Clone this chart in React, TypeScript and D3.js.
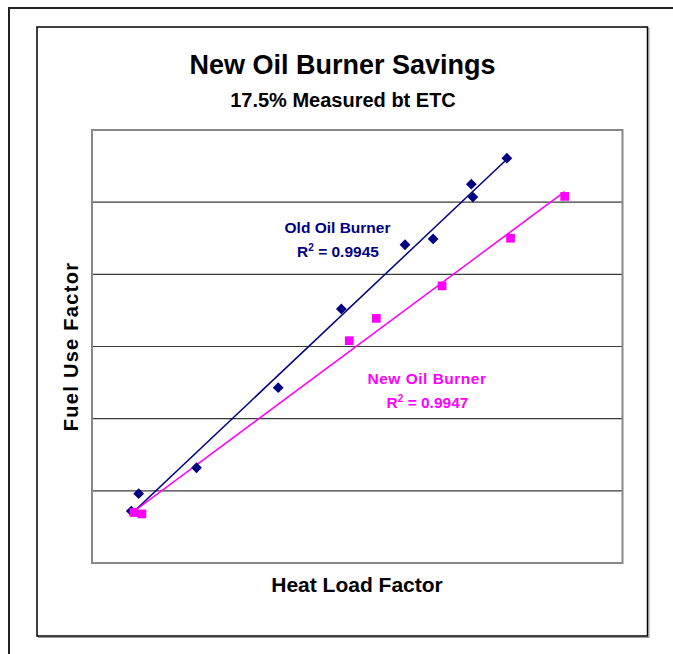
import React from "react";
import * as d3 from "d3";

// Data (arbitrary units; the chart shows no tick labels)
const oldX = [0.74, 0.88, 1.97, 3.51, 4.70, 5.90, 6.43, 7.15, 7.18, 7.82];
const oldY = [0.72, 0.96, 1.32, 2.43, 3.52, 4.41, 4.49, 5.25, 5.07, 5.61];
const newX = [0.79, 0.94, 4.85, 5.36, 6.60, 7.89, 8.91];
const newY = [0.70, 0.68, 3.08, 3.39, 3.84, 4.50, 5.08];
const yTicks = [1, 2, 3, 4, 5];

const title = "New Oil Burner Savings";
const subtitle = "17.5% Measured bt ETC";
const xTitle = "Heat Load Factor";
const yTitle = "Fuel Use Factor";
const oldLabel = "Old Oil Burner";
const newLabel = "New Oil Burner";
const oldR2 = "0.9945";
const newR2 = "0.9947";

const W = 673;
const H = 654;
const PL = 92, PR = 622.5, PT = 130, PB = 563;

const NAVY = "#000080";
const PINK = "#FF00FF";

function fit(xs: number[], ys: number[]) {
  const mx = d3.mean(xs)!;
  const my = d3.mean(ys)!;
  let sxy = 0, sxx = 0;
  xs.forEach((x, i) => {
    sxy += (x - mx) * (ys[i] - my);
    sxx += (x - mx) * (x - mx);
  });
  const b = sxy / sxx;
  const a = my - b * mx;
  const x0 = d3.min(xs)!;
  const x1 = d3.max(xs)!;
  return [
    [x0, a + b * x0],
    [x1, a + b * x1],
  ] as [number, number][];
}

export default function App() {
  const x = d3.scaleLinear().domain([0, 10]).range([PL, PR]);
  const y = d3.scaleLinear().domain([0, 6]).range([PB, PT]);
  const line = d3
    .line<[number, number]>()
    .x((d) => x(d[0]))
    .y((d) => y(d[1]));
  const diamond = d3.symbol().type(d3.symbolSquare).size(58)();
  const square = d3.symbol().type(d3.symbolSquare).size(76)();
  const oldFit = fit(oldX, oldY);
  const newFit = fit(newX, newY);
  const font = "Liberation Sans, Arial, sans-serif";

  return (
    <svg
      width={W}
      height={H}
      style={{ position: "absolute", left: 0, top: 0, background: "#fff" }}
      fontFamily={font}
    >
      {/* outer frame */}
      <rect x={9} y={8} width={720} height={720} fill="none" stroke="#222" strokeWidth={2} />
      {/* chart area frame */}
      <rect x={37.5} y={27.5} width={610.5} height={609} fill="#fff" stroke="#999" strokeWidth={1} transform="translate(1,1)" />
      <rect x={37} y={27} width={610.5} height={609} fill="#fff" stroke="#000" strokeWidth={1.5} />

      {/* titles */}
      <text x={342.5} y={74} textAnchor="middle" fontSize={27} fontWeight="bold" fill="#000">
        {title}
      </text>
      <text x={343} y={107} textAnchor="middle" fontSize={20} fontWeight="bold" fill="#000">
        {subtitle}
      </text>

      {/* gridlines */}
      {yTicks.map((t) => (
        <line key={t} x1={PL} x2={PR} y1={y(t)} y2={y(t)} stroke="#3a3a3a" strokeWidth={1.2} />
      ))}
      {/* plot area border */}
      <rect x={PL} y={PT} width={PR - PL} height={PB - PT} fill="none" stroke="#888" strokeWidth={2} />

      {/* trendlines */}
      <path d={line(oldFit)!} stroke={NAVY} strokeWidth={1.5} fill="none" />
      <path d={line(newFit)!} stroke={PINK} strokeWidth={1.5} fill="none" />

      {/* markers */}
      {oldX.map((v, i) => (
        <path key={"o" + i} d={diamond} transform={`translate(${x(v)},${y(oldY[i])}) rotate(45)`} fill={NAVY} />
      ))}
      {newX.map((v, i) => (
        <path key={"n" + i} d={square} transform={`translate(${x(v)},${y(newY[i])})`} fill={PINK} />
      ))}

      {/* series labels */}
      <text x={337.5} y={233} textAnchor="middle" fontSize={15.5} fontWeight="bold" fill={NAVY}>
        {oldLabel}
      </text>
      <text x={338} y={257} textAnchor="middle" fontSize={15.5} fontWeight="bold" fill={NAVY}>
        R<tspan dy={-6} fontSize={10}>2</tspan>
        <tspan dy={6}> = {oldR2}</tspan>
      </text>
      <text x={427} y={384} textAnchor="middle" fontSize={15.5} fontWeight="bold" fill={PINK} letterSpacing={0.5}>
        {newLabel}
      </text>
      <text x={427.5} y={408} textAnchor="middle" fontSize={15.5} fontWeight="bold" fill={PINK}>
        R<tspan dy={-6} fontSize={10}>2</tspan>
        <tspan dy={6}> = {newR2}</tspan>
      </text>

      {/* axis titles */}
      <text x={357} y={592} textAnchor="middle" fontSize={21} fontWeight="bold" fill="#000">
        {xTitle}
      </text>
      <text
        transform={`translate(77.5,${(PT + PB) / 2}) rotate(-90)`}
        textAnchor="middle"
        fontSize={20}
        fontWeight="bold"
        letterSpacing={1.3}
        fill="#000"
      >
        {yTitle}
      </text>
    </svg>
  );
}
